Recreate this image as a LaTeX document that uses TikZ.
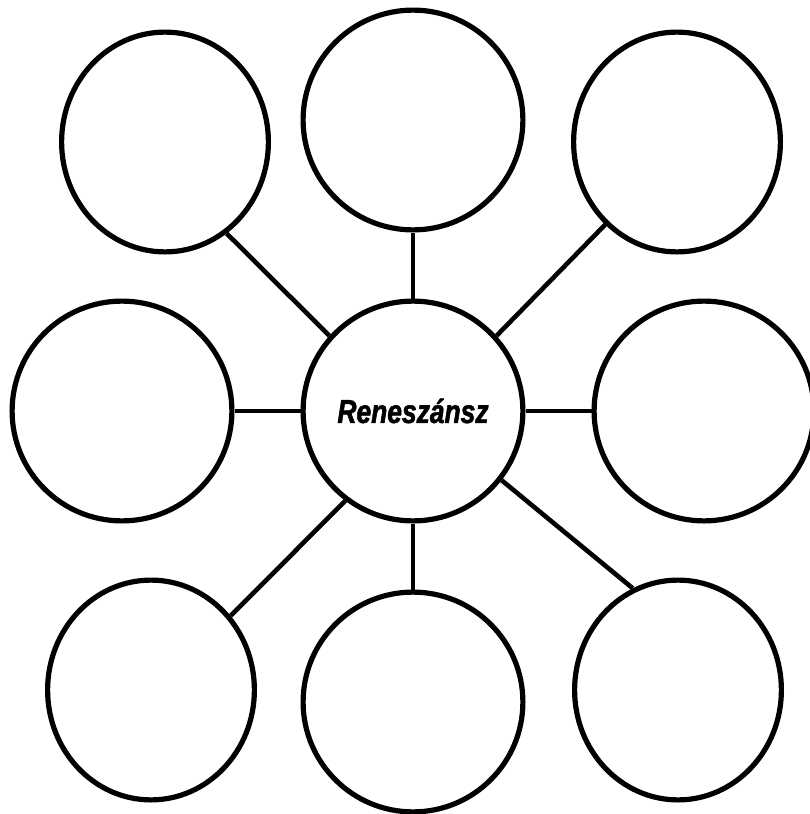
\documentclass[tikz,border=0pt]{standalone}
\usepackage{fontspec}
\setmainfont{Liberation Sans}
\newfontfamily\titelfont{Liberation Sans Bold Italic}[FakeStretch=0.8, FakeBold=1.6]
\usetikzlibrary{positioning, shapes.geometric}

\begin{document}
\begin{tikzpicture}[
                x=1pt, y=-1pt,
                kreis/.style={draw=black, line width=5.2pt, circle, inner sep=0pt, minimum size=219.8pt},
                oval/.style={draw=black, line width=5.2pt, ellipse, inner sep=0pt, minimum width=206.8pt, minimum height=219.8pt},
                kante/.style={line width=4.6pt},
                titel/.style={font=\titelfont\fontsize{33}{33}\selectfont}
            ]
            \useasboundingbox (0,0) rectangle (809,814);

            % Knoten
            \node[kreis, titel] (mitte) at (413,411) {Reneszánsz};
            \node[kreis, above=66pt of mitte] (om) {};
            \node[kreis, below=66pt of mitte] (um) {};
            \node[kreis, left=66pt of mitte] (ml) {};
            \node[kreis, right=66pt of mitte] (mr) {};
            \node[oval] (ol) at (165,142) {};
            \node[oval] (or) at (677,142) {};
            \node[oval] (ul) at (151,690) {};
            \node[oval] (ur) at (678,690) {};

            % Kanten
            \draw[kante] (mitte.138) -- (ol.304);
            \draw[kante] (mitte.north) -- (om.south);
            \draw[kante] (mitte.42) -- (or.229);
            \draw[kante] (mitte.west) -- (ml.east);
            \draw[kante] (mitte.east) -- (mr.west);
            \draw[kante] (mitte.233) -- (ul.43);
            \draw[kante] (mitte.south) -- (um.north);
            \draw[kante] (mitte.322) -- (ur.114);

\end{tikzpicture}
\end{document}
